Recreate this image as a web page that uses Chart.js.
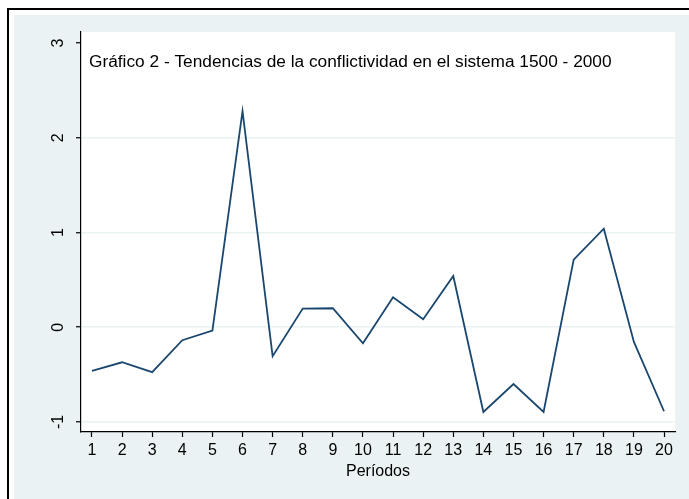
<!DOCTYPE html>
<html>
<head>
<meta charset="utf-8">
<script src="https://cdn.jsdelivr.net/npm/chart.js"></script>
<style>
    html, body { margin: 0; padding: 0; background: #fff; overflow: hidden; }
    .frame { position: absolute; left: 7px; top: 8px; width: 720px; height: 520px; border: 2px solid #000; background: #fff; }
    .inner { position: absolute; left: 14px; top: 15px; width: 675px; height: 484px; background: #eaf2f3; }
</style>
</head>
<body>
<div class="frame"></div>
<div class="inner"><canvas id="grafico" width="675" height="484"></canvas></div>
<script>
const periods = [1, 2, 3, 4, 5, 6, 7, 8, 9, 10, 11, 12, 13, 14, 15, 16, 17, 18, 19, 20];
const values = [-0.46, -0.37, -0.475, -0.137, -0.035, 2.28, -0.306, 0.197, 0.2, -0.17,
                0.317, 0.084, 0.54, -0.894, -0.60, -0.894, 0.714, 1.04, -0.155, -0.887];
const yTicks = [-1, 0, 1, 2, 3];
const xTicks = periods;
const titulo = 'Gráfico 2 - Tendencias de la conflictividad en el sistema 1500 - 2000';

const fontFamily = '"Liberation Sans", Arial, sans-serif';

// fondo blanco del area, etiquetas verticales del eje y y titulo interno
const plotExtras = {
    id: 'plotExtras',
    beforeDraw(chart) {
        const a = chart.chartArea;
        const ctx = chart.ctx;
        ctx.save();
        ctx.fillStyle = '#fff';
        ctx.fillRect(a.left, a.top, a.right - a.left, a.bottom - a.top);
        ctx.restore();
    },
    afterDraw(chart) {
        const a = chart.chartArea;
        const ctx = chart.ctx;
        const y = chart.scales.y;
        ctx.save();
        ctx.fillStyle = '#000';
        ctx.font = '16px ' + fontFamily;
        ctx.textAlign = 'center';
        ctx.textBaseline = 'alphabetic';
        yTicks.forEach(v => {
            ctx.save();
            ctx.translate(49, y.getPixelForValue(v));
            ctx.rotate(-Math.PI / 2);
            ctx.fillText(String(v), 0, 0);
            ctx.restore();
        });
        ctx.textAlign = 'left';
        ctx.font = '17.3px ' + fontFamily;
        ctx.fillText(titulo, a.left + 8, a.top + 35);
        ctx.restore();
    }
};

new Chart(document.getElementById('grafico'), {
    type: 'line',
    data: {
        datasets: [{
            data: periods.map((p, i) => ({ x: p, y: values[i] })),
            borderColor: '#1a476f',
            borderWidth: 1.8,
            pointRadius: 0,
            tension: 0,
            fill: false
        }]
    },
    options: {
        responsive: false,
        animation: false,
        layout: { padding: { top: 17, right: 14, left: 0, bottom: 0 } },
        plugins: {
            legend: { display: false },
            tooltip: { enabled: false }
        },
        scales: {
            x: {
                type: 'linear',
                min: 0.635,
                max: 20.365,
                afterBuildTicks: s => { s.ticks = xTicks.map(v => ({ value: v })); },
                afterFit: s => { s.height = 67; },
                border: { display: true, color: '#000', width: 1.2 },
                grid: { drawOnChartArea: false, drawTicks: true, tickLength: 5, tickColor: '#000', tickWidth: 1.2 },
                ticks: {
                    color: '#000',
                    font: { size: 16, family: fontFamily },
                    padding: 4,
                    maxRotation: 0,
                    autoSkip: false
                },
                title: {
                    display: true,
                    text: 'Períodos',
                    color: '#000',
                    font: { size: 16, family: fontFamily },
                    padding: { top: 0, bottom: 18 }
                }
            },
            y: {
                min: -1.106,
                max: 3.116,
                afterBuildTicks: s => { s.ticks = yTicks.map(v => ({ value: v })); },
                afterFit: s => { s.width = 67; },
                border: { display: true, color: '#000', width: 1.2 },
                grid: {
                    drawTicks: true,
                    tickLength: 5,
                    tickColor: '#000',
                    tickWidth: 1.2,
                    lineWidth: 1.5,
                    color: ctx => (ctx.tick && ctx.tick.value === 3) ? 'rgba(0,0,0,0)' : '#eaf2f3'
                },
                ticks: { display: false }
            }
        }
    },
    plugins: [plotExtras]
});
</script>
</body>
</html>
